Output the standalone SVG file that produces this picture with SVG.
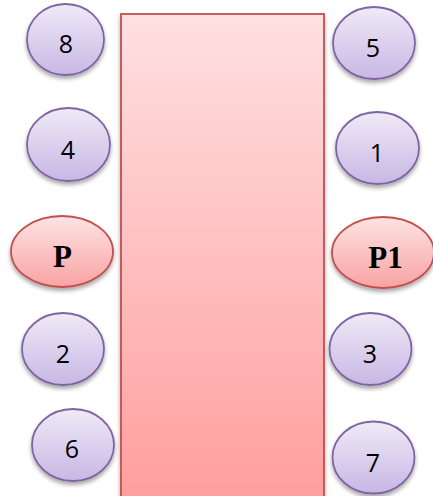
<svg xmlns="http://www.w3.org/2000/svg" width="433" height="496" viewBox="0 0 433 496">
<style>
.pu{fill:url(#gp);stroke:#8064a2;stroke-width:1.8;filter:url(#sh)}
.rd{fill:url(#gr);stroke:#c0504d;stroke-width:1.8;filter:url(#sh)}
.n{font-family:"Open Sans","Liberation Sans",sans-serif;font-size:25px;fill:#000;text-anchor:middle}
.b{font-family:"Liberation Serif",serif;font-weight:bold;font-size:31px;fill:#000;text-anchor:middle}
</style>
<defs>
<linearGradient id="gp" x1="0" y1="0" x2="0" y2="1">
<stop offset="0" stop-color="#efeaf7"/><stop offset="1" stop-color="#c8b7e4"/>
</linearGradient>
<linearGradient id="gr" x1="0" y1="0" x2="0" y2="1">
<stop offset="0" stop-color="#fde3e3"/><stop offset="1" stop-color="#f9a3a3"/>
</linearGradient>
<linearGradient id="gt" x1="0" y1="14" x2="0" y2="500" gradientUnits="userSpaceOnUse">
<stop offset="0" stop-color="#ffe0e1"/><stop offset="1" stop-color="#ff9e9e"/>
</linearGradient>
<filter id="sh" x="-20%" y="-20%" width="140%" height="150%">
<feGaussianBlur in="SourceAlpha" stdDeviation="2"/>
<feOffset dx="0" dy="3" result="o"/>
<feComponentTransfer><feFuncA type="linear" slope="0.35"/></feComponentTransfer>
<feMerge><feMergeNode/><feMergeNode in="SourceGraphic"/></feMerge>
</filter>
</defs>
<g id="table"><rect x="121" y="14" width="203" height="500" fill="url(#gt)" stroke="#c0504d" stroke-width="1.8" filter="url(#sh)"/></g>
<g id="connectors"/>
<g id="n8"><ellipse class="pu" cx="65.5" cy="39.5" rx="38.5" ry="35.5"/><text class="n" x="66" y="53">8</text></g>
<g id="n5"><ellipse class="pu" cx="374" cy="43" rx="41" ry="36"/><text class="n" x="373" y="57">5</text></g>
<g id="n4"><ellipse class="pu" cx="68.5" cy="144.5" rx="41.5" ry="36.5"/><text class="n" x="68" y="159">4</text></g>
<g id="n1"><ellipse class="pu" cx="377.5" cy="148" rx="41.5" ry="36"/><text class="n" x="377" y="162">1</text></g>
<g id="nP"><ellipse class="rd" cx="62" cy="251.5" rx="51" ry="35.5"/><text class="b" x="62.5" y="267">P</text></g>
<g id="nP1"><ellipse class="rd" cx="383" cy="252.5" rx="51" ry="35.5"/><text class="b" x="385.5" y="268">P1</text></g>
<g id="n2"><ellipse class="pu" cx="63" cy="349" rx="41" ry="36"/><text class="n" x="63" y="363">2</text></g>
<g id="n3"><ellipse class="pu" cx="370.5" cy="349" rx="41" ry="36"/><text class="n" x="370" y="363">3</text></g>
<g id="n6"><ellipse class="pu" cx="73" cy="445" rx="41" ry="36"/><text class="n" x="72" y="458">6</text></g>
<g id="n7"><ellipse class="pu" cx="373.5" cy="457.5" rx="41" ry="36"/><text class="n" x="373" y="472">7</text></g>
</svg>
